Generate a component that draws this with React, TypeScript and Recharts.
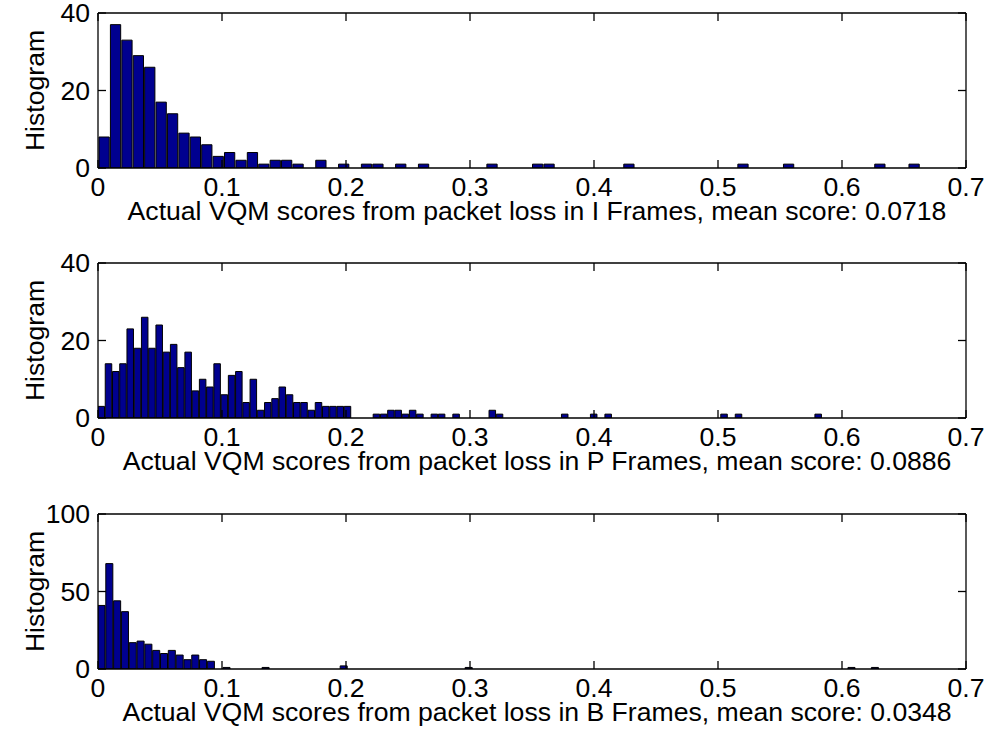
import React from 'react';
import { BarChart, Bar, XAxis, YAxis } from 'recharts';

// Histogram counts per bin, bins start at 0 and are BIN_* wide
const iFrameCounts = [
  8, 37, 33, 29, 26, 17, 14, 9, 8, 6,
  3, 4, 2, 4, 1, 2, 2, 1, 0, 2,
  0, 1, 0, 1, 1, 0, 1, 0, 1, 0,
  0, 0, 0, 0, 1, 0, 0, 0, 1, 1,
  0, 0, 0, 0, 0, 0, 1, 0, 0, 0,
  0, 0, 0, 0, 0, 0, 1, 0, 0, 0,
  1, 0, 0, 0, 0, 0, 0, 0, 1, 0,
  0, 1,
];

const pFrameCounts = [
  3, 14, 12, 14, 23, 18, 26, 18, 24, 17,
  19, 13, 17, 7, 10, 8, 14, 6, 11, 12,
  4, 10, 2, 4, 5, 8, 6, 4, 4, 2,
  4, 3, 3, 3, 3, 0, 0, 0, 1, 1,
  2, 2, 1, 2, 1, 0, 1, 1, 0, 1,
  0, 0, 0, 0, 2, 1, 0, 0, 0, 0,
  0, 0, 0, 0, 1, 0, 0, 0, 1, 0,
  1, 0, 0, 0, 0, 0, 0, 0, 0, 0,
  0, 0, 0, 0, 0, 0, 1, 0, 1, 0,
  0, 0, 0, 0, 0, 0, 0, 0, 0, 1,
];

const bFrameCounts = [
  41, 68, 44, 37, 17, 18, 16, 12, 10, 12,
  9, 6, 9, 6, 5, 0, 1, 0, 0, 0,
  0, 1, 0, 0, 0, 0, 0, 0, 0, 0,
  0, 2, 0, 0, 0, 0, 0, 0, 0, 0,
  0, 0, 0, 0, 0, 0, 0, 1, 0, 0,
  0, 0, 0, 0, 0, 0, 0, 0, 0, 0,
  0, 0, 0, 0, 0, 0, 0, 0, 0, 0,
  0, 0, 0, 0, 0, 0, 0, 0, 0, 0,
  0, 0, 0, 0, 0, 0, 0, 0, 0, 0,
  0, 0, 0, 0, 0, 0, 1, 0, 0, 1,
];

const BIN_I = 0.0092;
const BIN_P = 0.00584;
const BIN_B = 0.0063;

const xTicks = [0, 0.1, 0.2, 0.3, 0.4, 0.5, 0.6, 0.7];
const yTicksSmall = [0, 20, 40];
const yTicksLarge = [0, 50, 100];

const titles = [
  'Actual VQM scores from packet loss in I Frames, mean score: 0.0718',
  'Actual VQM scores from packet loss in P Frames, mean score: 0.0886',
  'Actual VQM scores from packet loss in B Frames, mean score: 0.0348',
];

const FONT = '"Liberation Sans", Arial, Helvetica, sans-serif';
const FONT_SIZE = 26.6;
const W = 985;
const H = 250;
const LEFT = 98;
const RIGHT = 19;
const PLOT_W = W - LEFT - RIGHT;
const X_MAX = 0.7;
const BAR_FILL = '#00008f';

const tickStyle = { fill: '#000', fontSize: FONT_SIZE, fontFamily: FONT };
const lineStyle = { stroke: '#000', strokeWidth: 1.3 };

const toBins = (counts: number[], width: number) =>
  counts.map((n, k) => ({ x: (k + 0.5) * width, n }));

interface PanelProps {
  counts: number[];
  binWidth: number;
  yMax: number;
  yTicks: number[];
  title: string;
  top: number;
}

const Panel: React.FC<PanelProps> = ({ counts, binWidth, yMax, yTicks, title, top }) => {
  const data = toBins(counts, binWidth);
  const barSize = (PLOT_W * binWidth) / X_MAX;

  return (
    <div style={{ position: 'absolute', left: 0, top }}>
      <BarChart
        width={W}
        height={H}
        data={data}
        // top/right mirror axes take 1px each, so the plot box is 98..966 x 13..168
        margin={{ top: 12, right: RIGHT - 1, left: 0, bottom: 0 }}
        barCategoryGap={0}
        barGap={0}
      >
        <XAxis
          dataKey="x"
          type="number"
          domain={[0, X_MAX]}
          ticks={xTicks}
          interval={0}
          height={82}
          tickSize={-8}
          tickMargin={17}
          tick={tickStyle}
          tickLine={lineStyle}
          axisLine={lineStyle}
          allowDataOverflow
          label={({ viewBox }: any) => (
            <text
              x={viewBox.x + viewBox.width / 2 + 5}
              y={viewBox.y + 52}
              textAnchor="middle"
              fontSize={FONT_SIZE}
              fontFamily={FONT}
              fill="#000"
            >
              {title}
            </text>
          )}
        />
        <XAxis
          xAxisId="top"
          orientation="top"
          dataKey="x"
          type="number"
          domain={[0, X_MAX]}
          ticks={xTicks}
          interval={0}
          height={1}
          tickSize={-8}
          tickFormatter={() => ''}
          tickLine={lineStyle}
          axisLine={lineStyle}
          allowDataOverflow
        />
        <YAxis
          domain={[0, yMax]}
          ticks={yTicks}
          interval={0}
          width={LEFT}
          tickSize={-8}
          tickMargin={16}
          tick={tickStyle}
          tickLine={lineStyle}
          axisLine={lineStyle}
          allowDataOverflow
          label={({ viewBox }: any) => {
            const cy = viewBox.y + viewBox.height / 2;
            return (
              <text
                x={35}
                y={cy}
                transform={`rotate(-90, 35, ${cy})`}
                textAnchor="middle"
                dominantBaseline="central"
                fontSize={FONT_SIZE}
                fontFamily={FONT}
                fill="#000"
              >
                Histogram
              </text>
            );
          }}
        />
        <YAxis
          yAxisId="right"
          orientation="right"
          domain={[0, yMax]}
          ticks={yTicks}
          interval={0}
          width={1}
          tickSize={-8}
          tickFormatter={() => ''}
          tickLine={lineStyle}
          axisLine={lineStyle}
          allowDataOverflow
        />
        <Bar
          dataKey="n"
          fill={BAR_FILL}
          stroke="#000"
          strokeWidth={1}
          barSize={barSize}
          isAnimationActive={false}
        />
      </BarChart>
    </div>
  );
};

export default function App() {
  return (
    <div
      style={{
        position: 'absolute',
        left: 0,
        top: 0,
        width: W,
        height: 742,
        background: '#fff',
        fontFamily: FONT,
      }}
    >
      <Panel counts={iFrameCounts} binWidth={BIN_I} yMax={40} yTicks={yTicksSmall} title={titles[0]} top={0} />
      <Panel counts={pFrameCounts} binWidth={BIN_P} yMax={40} yTicks={yTicksSmall} title={titles[1]} top={250} />
      <Panel counts={bFrameCounts} binWidth={BIN_B} yMax={100} yTicks={yTicksLarge} title={titles[2]} top={501} />
    </div>
  );
}
